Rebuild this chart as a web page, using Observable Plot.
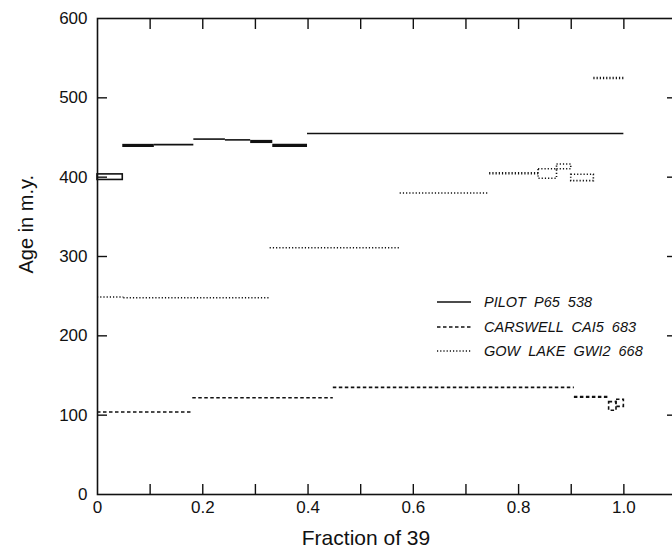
<!DOCTYPE html>
<html>
<head>
<meta charset="utf-8">
<script src="https://cdn.jsdelivr.net/npm/d3@7"></script>
<script src="https://cdn.jsdelivr.net/npm/@observablehq/plot@0.6"></script>
<style>
  html, body { margin: 0; padding: 0; background: #fff; }
  #wrap { position: relative; width: 672px; height: 550px; }
  #legend { position: absolute; left: 436px; top: 290px; font-family: "Liberation Sans", sans-serif; font-style: italic; font-size: 14.5px; color: #111; }
  #legend .row { display: flex; align-items: center; height: 24.5px; white-space: pre; }
  #legend svg { margin-right: 12px; }
</style>
</head>
<body>
<div id="wrap"></div>
<script>
// ---- data ----
// Pilot P65 538 : step boundaries (fraction of 39Ar), apparent ages (m.y.), half-errors (m.y.)
const pilotBounds = [0, 0.048, 0.108, 0.183, 0.243, 0.291, 0.333, 0.399, 1.0];
const pilotAges   = [400, 440, 441, 448, 447, 445, 440, 455];
const pilotErrs   = [3.5, 2, 1, 1, 1, 2, 2, 1];

// Carswell CA15 683
const carswellBounds = [0, 0.181, 0.448, 0.906, 0.972, 0.986, 1.0];
const carswellAges   = [104, 122, 135, 123, 111, 115];
const carswellErrs   = [1, 1, 1, 1.5, 5.5, 4.5];

// Gow Lake GW12 668
const gowBounds = [0, 0.05, 0.328, 0.575, 0.745, 0.838, 0.873, 0.90, 0.943, 1.0];
const gowAges   = [249, 248, 311, 380, 405, 404, 413, 399, 525];
const gowErrs   = [1, 1, 1, 1, 1.5, 6, 3, 4, 1.5];

const sampleNames = ["PILOT  P65  538", "CARSWELL  CAI5  683", "GOW  LAKE  GWI2  668"];

const xTicksMinor = [0.1, 0.2, 0.3, 0.4, 0.5, 0.6, 0.7, 0.8, 0.9, 1.0];
const xTickLabels = [0, 0.2, 0.4, 0.6, 0.8, 1.0];
const yTicksMinor = [100, 200, 300, 400, 500];
const yTickLabels = [0, 100, 200, 300, 400, 500, 600];

const xLabel = "Fraction of 39";
const yLabel = "Age in m.y.";

// ---- build steps ----
function steps(bounds, ages, errs) {
  return ages.map((a, i) => ({x1: bounds[i], x2: bounds[i + 1], age: a, err: errs[i]}));
}
const pilot = steps(pilotBounds, pilotAges, pilotErrs);
const carswell = steps(carswellBounds, carswellAges, carswellErrs);
const gow = steps(gowBounds, gowAges, gowErrs);

const W = 672, H = 550, mL = 97, mR = -4, mT = 18, mB = 56;
const pxPerMy = (H - mB - mT) / 600;

const dashes = ["none", "3.5,2.5", "1.2,2"];

function sampleMarks(data, dash) {
  const lines = data.filter(d => d.err < 3);
  const boxes = data.filter(d => d.err >= 3);
  return [
    Plot.ruleY(lines, {
      y: "age", x1: "x1", x2: "x2",
      stroke: "#111",
      strokeWidth: d => Math.max(1.4, 2 * d.err * pxPerMy),
      strokeDasharray: dash
    }),
    Plot.rect(boxes, {
      x1: "x1", x2: "x2",
      y1: d => d.age - d.err, y2: d => d.age + d.err,
      fill: "none", stroke: "#111", strokeWidth: 1.6,
      strokeDasharray: dash
    })
  ];
}

const fmt = d => d === 0 ? "0" : d3.format(".1f")(d);

const chart = Plot.plot({
  width: W, height: H,
  marginLeft: mL, marginRight: mR, marginTop: mT, marginBottom: mB,
  style: {fontFamily: "Liberation Sans, sans-serif", fontSize: "16px", color: "#111", background: "#fff"},
  x: {domain: [0, 1.1]},
  y: {domain: [0, 600]},
  marks: [
    Plot.frame({stroke: "#111", strokeWidth: 1.6}),
    // inward ticks
    Plot.axisX({anchor: "bottom", ticks: xTicksMinor, tickSize: -10, tickFormat: () => "", label: null, strokeWidth: 1.4}),
    Plot.axisX({anchor: "top", ticks: xTicksMinor, tickSize: -10, tickFormat: () => "", label: null, strokeWidth: 1.4}),
    Plot.axisY({anchor: "left", ticks: yTicksMinor, tickSize: -10, tickFormat: () => "", label: null, strokeWidth: 1.4}),
    Plot.axisY({anchor: "right", ticks: yTicksMinor, tickSize: -10, tickFormat: () => "", label: null, strokeWidth: 1.4}),
    // labels
    Plot.axisX({anchor: "bottom", ticks: xTickLabels, tickSize: 0, tickPadding: 6, tickFormat: fmt, label: null, fontSize: 17}),
    Plot.axisY({anchor: "left", ticks: yTickLabels, tickSize: 0, tickPadding: 10, tickFormat: d => String(d), label: null, fontSize: 17}),
    Plot.text([xLabel], {frameAnchor: "bottom", dy: 44, dx: -21, fontSize: 21, lineAnchor: "middle"}),
    Plot.text([yLabel], {frameAnchor: "left", dx: -71, dy: 17, rotate: -90, fontSize: 20, lineAnchor: "middle"}),
    // data
    ...sampleMarks(pilot, dashes[0]),
    ...sampleMarks(carswell, dashes[1]),
    ...sampleMarks(gow, dashes[2])
  ]
});

const wrap = document.getElementById("wrap");
wrap.appendChild(chart);

// legend (overlaid inside the plot area)
const legend = document.createElement("div");
legend.id = "legend";
sampleNames.forEach((name, i) => {
  const row = document.createElement("div");
  row.className = "row";
  row.innerHTML = `<svg width="36" height="6"><line x1="1" x2="35" y1="3" y2="3" stroke="#111" stroke-width="1.4" ${dashes[i] === "none" ? "" : `stroke-dasharray="${dashes[i]}"`}/></svg><span>${name}</span>`;
  legend.appendChild(row);
});
wrap.appendChild(legend);
</script>
</body>
</html>
